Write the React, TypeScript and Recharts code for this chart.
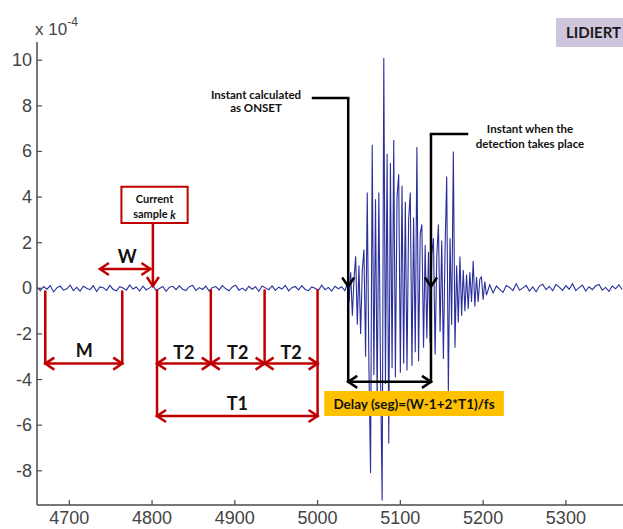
import { LineChart, Line, XAxis, YAxis, ReferenceLine, ReferenceArea, ReferenceDot } from "recharts";

// axis ticks
const X_TICKS = [4700, 4800, 4900, 5000, 5100, 5200, 5300];
const Y_TICKS = [-8, -6, -4, -2, 0, 2, 4, 6, 8, 10];

// signal (x 10^-4) in three stretches
const PRE_START = 4661;
const PRE_STEP = 4;
const PRE_NOISE = [
  0.05, -0.1, 0.08, -0.04, 0.12, -0.15, 0.02, 0.1, -0.08, -0.02,
  0.14, -0.1, 0.04, -0.12, 0.09, 0.0, -0.06, 0.11, -0.14, 0.06,
  0.03, -0.09, 0.13, -0.05, -0.11, 0.07, 0.01, -0.08, 0.15, -0.03,
  0.06, -0.12, 0.1, -0.07, 0.02, 0.12, -0.1, -0.01, 0.08, -0.13,
  0.05, 0.09, -0.06, 0.11, -0.04, -0.1, 0.07, 0.13, -0.09, 0.03,
  -0.05, 0.1, -0.12, 0.04, 0.08, -0.07, 0.12, -0.02, -0.11, 0.06,
  0.14, -0.08, 0.01, -0.1, 0.09, -0.04, 0.07, -0.13, 0.1, 0.02,
  -0.06, 0.11, -0.09, 0.05, -0.03, 0.13, -0.11, 0.03, 0.08, -0.07,
  0.12, -0.05, -0.1, 0.06, 0.0, -0.09, 0.14, -0.06, 0.04, -0.12,
  0.09, -0.02, 0.07, -0.1,
];

const BURST_START = 5036;
const BURST_STEP = 2;
const BURST = [
  0.2, -0.6, 0.7, -1.2, 0.4, 1.4, -1.6, 1.0, -2.0, 0.8,
  1.7, -3.0, 4.2, -3.4, -8.1, 6.3, -3.8, 3.9, -5.0, 4.2,
  -3.6, -9.3, 10.1, -4.2, 5.9, -6.8, 5.5, -3.5, 6.5, -3.9,
  4.0, 5.0, -3.7, 4.5, -3.3, 3.8, -3.6, 3.0, 4.2, -3.4,
  3.1, -2.8, 6.2, -3.2, 2.4, 2.8, -2.6, 1.9, -2.2, 1.6,
  -2.4, 1.5, 2.2, -2.9, 1.4, 2.8, -1.9, 2.1, -3.1, 1.7,
  4.9, -4.5, 2.2, -1.6, 6.0, -2.6, 1.0, -1.5, 1.4, -1.2,
  0.8, -1.0, 0.6, -0.9, 0.7, -0.6, 1.2, -0.8, 0.5, -0.6,
  0.4, 0.5, -0.5, 0.3, -0.3,
];

const POST_START = 5208;
const POST_STEP = 4;
const POST_NOISE = [
  0.15, -0.2, 0.1, -0.05, -0.18, 0.12, 0.04, -0.1, 0.2, -0.08,
  0.02, 0.13, -0.12, 0.06, -0.15, 0.1, 0.18, -0.06, 0.09, -0.11,
  0.16, 0.05, -0.09, 0.12, -0.04, 0.2, -0.1, 0.03, 0.14, -0.12,
  0.07, -0.06, 0.11, 0.17, -0.08, 0.04, -0.13, 0.1, -0.02, 0.15,
  -0.05,
];

// annotation anchors, in samples / amplitude
const M_EDGES = [4671, 4764];
const W_EDGES = [4737, 4798];
const K_SAMPLE = 4801;
const T_EDGES = [4806, 4871, 4936, 5000];
const ONSET = 5037;
const DETECT = 5137;

const series = [
  ...PRE_NOISE.map((v, i) => ({ t: PRE_START + i * PRE_STEP, v })),
  ...BURST.map((v, i) => ({ t: BURST_START + i * BURST_STEP, v })),
  ...POST_NOISE.map((v, i) => ({ t: POST_START + i * POST_STEP, v })),
];

const RED = "#c00000";
const AXIS = "#4a4a4a";
const LABEL_FONT = "Lato, 'Open Sans', sans-serif";
const TICK_FONT = "'Liberation Sans', Arial, sans-serif";

type Heads = "start" | "end" | "both" | "none";

function chevron(ax: number, ay: number, bx: number, by: number, color: string, w: number) {
  const dx = bx - ax;
  const dy = by - ay;
  const len = Math.hypot(dx, dy) || 1;
  const ux = dx / len;
  const uy = dy / len;
  const L = 9;
  const H = 6;
  const pts = [
    [bx - L * ux - H * uy, by - L * uy + H * ux],
    [bx, by],
    [bx - L * ux + H * uy, by - L * uy - H * ux],
  ];
  return (
    <polyline
      points={pts.map((p) => p.join(",")).join(" ")}
      fill="none"
      stroke={color}
      strokeWidth={w}
      strokeLinejoin="miter"
    />
  );
}

function arrowShape(color: string, w: number, heads: Heads) {
  return (p: any) => {
    const { x1, y1, x2, y2 } = p;
    return (
      <g>
        <line x1={x1} y1={y1} x2={x2} y2={y2} stroke={color} strokeWidth={w} strokeLinecap={heads === "none" ? "square" : "butt"} />
        {(heads === "end" || heads === "both") && chevron(x1, y1, x2, y2, color, w)}
        {(heads === "start" || heads === "both") && chevron(x2, y2, x1, y1, color, w)}
      </g>
    );
  };
}

function seg(key: string, a: [number, number], b: [number, number], color: string, heads: Heads = "none") {
  return (
    <ReferenceLine
      key={key}
      segment={[{ x: a[0], y: a[1] }, { x: b[0], y: b[1] }]}
      ifOverflow="visible"
      zIndex={1500}
      shape={arrowShape(color, 2.5, heads)}
    />
  );
}

function txt(key: string, x: number, y: number, value: React.ReactNode, size: number) {
  return (
    <ReferenceDot
      key={key}
      x={x}
      y={y}
      r={0}
      fill="none"
      stroke="none"
      ifOverflow="visible"
      zIndex={1600}
      label={{
        content: (p: any) => {
          const vb = p.viewBox || {};
          return (
            <text
              x={vb.x + (vb.width || 0) / 2}
              y={vb.y + (vb.height || 0) / 2}
              textAnchor="middle"
              dominantBaseline="central"
              fontFamily={LABEL_FONT}
              fontWeight={700}
              fontSize={size}
              fill="#111"
            >
              {value}
            </text>
          );
        },
      }}
    />
  );
}

const XTick = (p: any) => (
  <g>
    <line x1={p.x} x2={p.x} y1={p.y} y2={p.y - 5} stroke={AXIS} strokeWidth={1.2} />
    <text x={p.x} y={p.y + 19} textAnchor="middle" fontFamily={TICK_FONT} fontSize={18} fill="#444">
      {p.payload.value}
    </text>
  </g>
);

const YTick = (p: any) => (
  <g>
    <line x1={p.x} x2={p.x + 5} y1={p.y} y2={p.y} stroke={AXIS} strokeWidth={1.2} />
    <text x={p.x - 5} y={p.y} textAnchor="end" dominantBaseline="central" fontFamily={TICK_FONT} fontSize={18} fill="#444">
      {p.payload.value}
    </text>
  </g>
);

export default function App() {
  const redLines = [
    seg("m0", [M_EDGES[0], -0.15], [M_EDGES[0], -3.3], RED),
    seg("m1", [M_EDGES[1], -0.15], [M_EDGES[1], -3.3], RED),
    seg("ma", [M_EDGES[0], -3.3], [M_EDGES[1], -3.3], RED, "both"),
    seg("t0", [T_EDGES[0], -0.1], [T_EDGES[0], -5.6], RED),
    seg("t1", [T_EDGES[1], -0.1], [T_EDGES[1], -3.3], RED),
    seg("t2", [T_EDGES[2], -0.1], [T_EDGES[2], -3.3], RED),
    seg("t3", [T_EDGES[3], -0.1], [T_EDGES[3], -5.6], RED),
    seg("a1", [T_EDGES[0], -3.3], [T_EDGES[1], -3.3], RED, "both"),
    seg("a2", [T_EDGES[1], -3.3], [T_EDGES[2], -3.3], RED, "both"),
    seg("a3", [T_EDGES[2], -3.3], [T_EDGES[3], -3.3], RED, "both"),
    seg("t1a", [T_EDGES[0], -5.6], [T_EDGES[3], -5.6], RED, "both"),
    seg("w", [W_EDGES[0], 0.85], [W_EDGES[1], 0.85], RED, "both"),
    seg("k", [K_SAMPLE, 2.86], [K_SAMPLE, 0.1], RED, "end"),
  ];

  const blackLines = [
    seg("oh", [4994.5, 8.34], [ONSET, 8.34], "#000"),
    seg("ov", [ONSET, 8.34], [ONSET, 0.08], "#000", "end"),
    seg("ob", [ONSET, 0.08], [ONSET, -4.1], "#000"),
    seg("dh", [5180.5, 6.77], [DETECT, 6.77], "#000"),
    seg("dv", [DETECT, 6.77], [DETECT, 0.08], "#000", "end"),
    seg("db", [DETECT, 0.08], [DETECT, -4.1], "#000"),
    seg("da", [ONSET, -4.1], [DETECT, -4.1], "#000", "both"),
  ];

  return (
    <div style={{ position: "absolute", left: 0, top: 0, width: 623, height: 529, background: "#fff", overflow: "hidden" }}>
      <LineChart width={623} height={529} data={series} margin={{ top: 42, right: 0, bottom: 0, left: 0 }}>
        <XAxis
          dataKey="t"
          type="number"
          domain={[4661, 5369]}
          ticks={X_TICKS}
          allowDataOverflow
          tickLine={false}
          tickSize={0}
          tickMargin={0}
          height={24}
          stroke={AXIS}
          strokeWidth={1.5}
          tick={XTick}
        />
        <YAxis
          type="number"
          domain={[-9.5, 10.8]}
          ticks={Y_TICKS}
          allowDataOverflow
          tickLine={false}
          tickSize={0}
          tickMargin={0}
          width={37}
          stroke={AXIS}
          strokeWidth={1.5}
          tick={YTick}
        />
        <Line
          type="linear"
          dataKey="v"
          stroke="#2a2f9c"
          strokeWidth={1.1}
          dot={false}
          isAnimationActive={false}
        />
        <ReferenceArea x1={4763} x2={4843} y1={2.86} y2={4.45} fill="#fff" fillOpacity={1} stroke={RED} strokeWidth={2} ifOverflow="visible" zIndex={1500} />
        <ReferenceArea x1={5008} x2={5225} y1={-4.5} y2={-5.6} fill="#ffc000" fillOpacity={1} stroke="none" ifOverflow="visible" zIndex={1500} />
        {redLines}
        {blackLines}
        {txt("M", 4718, -2.7, "M", 18)}
        {txt("T2a", (T_EDGES[0] + T_EDGES[1]) / 2, -2.79, "T2", 18)}
        {txt("T2b", (T_EDGES[1] + T_EDGES[2]) / 2, -2.79, "T2", 18)}
        {txt("T2c", (T_EDGES[2] + T_EDGES[3]) / 2, -2.79, "T2", 18)}
        {txt("T1", (T_EDGES[0] + T_EDGES[3]) / 2, -5.03, "T1", 18)}
        {txt("W", 4770, 1.42, "W", 18)}
        {txt("cur1", 4803, 3.96, "Current", 11)}
        {txt("cur2", 4803, 3.26, <>sample  <tspan fontStyle="italic">k</tspan></>, 11)}
        {txt("on1", 4925.6, 8.52, "Instant calculated", 11.5)}
        {txt("on2", 4925.6, 7.95, "as ONSET", 11.5)}
        {txt("de1", 5256.6, 6.99, "Instant when the", 11.5)}
        {txt("de2", 5256.6, 6.37, "detection takes place", 11.5)}
        {txt("delay", 5116.5, -5.05, "Delay (seg)=(W-1+2*T1)/fs", 13.5)}
      </LineChart>
      <div style={{ position: "absolute", left: 35, top: 18, fontFamily: TICK_FONT, fontSize: 17, color: "#444", lineHeight: 1 }}>
        x 10<sup style={{ fontSize: 12, position: "relative", top: -2 }}>-4</sup>
      </div>
      <div
        style={{
          position: "absolute",
          left: 556,
          top: 18,
          width: 70,
          height: 29,
          background: "#cfc6dd",
          fontFamily: LABEL_FONT,
          fontWeight: 700,
          fontSize: 15,
          color: "#1a1a1a",
          lineHeight: "29px",
          paddingLeft: 10,
          boxSizing: "border-box",
        }}
      >
        LIDIERT
      </div>
    </div>
  );
}
